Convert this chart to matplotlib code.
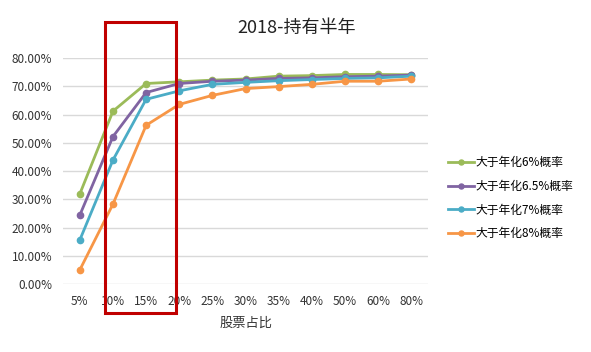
import matplotlib.pyplot as plt
from matplotlib.patches import Rectangle

plt.rcParams['font.family'] = ['Noto Sans CJK SC', 'DejaVu Sans']

# 股票占比
categories = ['5%', '10%', '15%', '20%', '25%', '30%', '35%', '40%', '50%', '60%', '80%']
p6 = [31.9, 61.2, 71.0, 71.6, 72.2, 72.6, 73.6, 73.8, 74.2, 74.2, 74.1]
p65 = [24.4, 52.2, 67.8, 71.0, 71.8, 72.2, 72.8, 73.0, 73.4, 73.6, 74.0]
p7 = [15.6, 43.9, 65.4, 68.4, 70.7, 71.4, 72.0, 72.4, 72.8, 73.0, 73.6]
p8 = [5.0, 28.3, 56.2, 63.6, 66.8, 69.2, 69.9, 70.7, 71.8, 71.8, 72.6]
yticks = [0, 10, 20, 30, 40, 50, 60, 70, 80]

series = [
    ('大于年化6%概率', p6, '#9BBB59'),
    ('大于年化6.5%概率', p65, '#8064A2'),
    ('大于年化7%概率', p7, '#4BACC6'),
    ('大于年化8%概率', p8, '#F79646'),
]

fig = plt.figure(figsize=(5.91, 3.52), dpi=100)
ax = fig.add_axes([0.107, 0.193, 0.617, 0.642])

x = list(range(len(categories)))
for name, vals, c in series:
    ax.plot(x, [v / 100 for v in vals], color=c, lw=2.0, marker='o', ms=4.5,
            label=name)

ax.set_xlim(-0.5, len(categories) - 0.5)
ax.set_ylim(0, 0.8)
ax.set_yticks([v / 100 for v in yticks])
ax.set_yticklabels(['%.2f%%' % v for v in yticks])
ax.set_xticks(x)
ax.set_xticklabels(categories)
ax.grid(axis='y', color='#D9D9D9', lw=1)
ax.set_axisbelow(True)
for s in ax.spines.values():
    s.set_visible(False)
ax.tick_params(length=0, labelsize=8.5, colors='#333333', pad=8)
ax.set_xlabel('股票占比', fontsize=9.5, color='#333333', labelpad=6)
fig.text(0.502, 1 - 28 / 352, '2018-持有半年', fontsize=13, color='#222222',
         ha='center', va='center')

ax.legend(loc='center left', bbox_to_anchor=(1.025, 0.38), frameon=False,
          fontsize=8.5, handlelength=2.2, labelspacing=0.9, handletextpad=0.2,
          markerscale=0.8)

# red highlight box
fig.patches.append(Rectangle((105 / 591, 1 - 313 / 352), 71 / 591, 291 / 352,
                             transform=fig.transFigure, fill=False,
                             edgecolor='#C00000', lw=2.2))

fig.savefig('out.png', dpi=100)
